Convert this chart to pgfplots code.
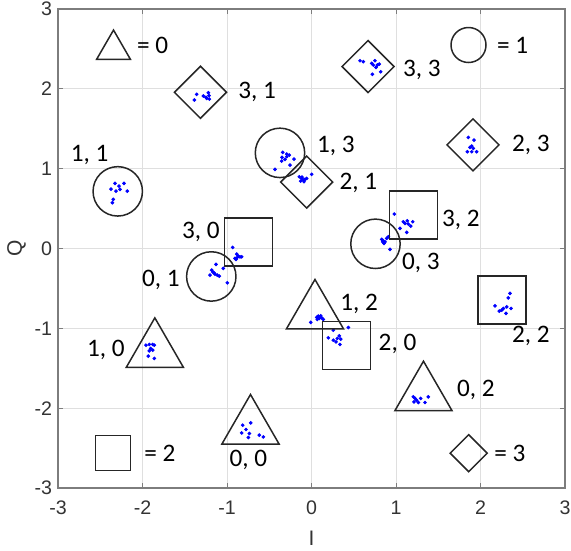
\documentclass[border=0pt]{standalone}
\usepackage{fontspec}
\setmainfont{Carlito}
\newfontfamily\arial{Liberation Sans}
\usepackage{pgfplots}
\pgfplotsset{compat=1.18}
\definecolor{axgray}{RGB}{125,125,125}
\definecolor{gridgray}{RGB}{223,223,223}
\definecolor{shp}{RGB}{38,38,38}
\tikzset{lbl/.style={inner sep=0pt, font=\fontsize{12.6}{14}\selectfont}}

\begin{document}
\begin{tikzpicture}
\begin{axis}[
    name=ax,
    scale only axis,
    width=253.5pt, height=239.5pt,
    xmin=-3, xmax=3, ymin=-3, ymax=3,
    xtick={-3,...,3}, ytick={-3,...,3},
    grid=major,
    grid style={gridgray, line width=0.5pt},
    axis line style={axgray, line width=0.6pt},
    tick style={axgray, line width=0.5pt},
    tick align=inside,
    major tick length=2.5pt,
    /pgf/number format/assume math mode=true,
    ticklabel style={font=\arial\fontsize{9.8}{11}\selectfont, text=black!80},
    xticklabel style={yshift=-3pt},
    yticklabel style={xshift=0.6pt},
    xlabel={I}, ylabel={Q},
    label style={font=\arial\fontsize{10.5}{12}\selectfont, text=black!80},
    xlabel style={at={(axis description cs:0.5,0)}, anchor=center, yshift=-25pt},
    ylabel style={at={([xshift=-20.75pt]axis description cs:0,0.5)}, anchor=center},
    clip=false,
]
% --- received symbols (blue dots) ---
\addplot[only marks, mark=*, mark size=0.7pt, blue] coordinates {
% 3,1
(-1.359,1.931) (-1.387,1.860) (-1.280,1.910) (-1.249,1.894) (-1.221,1.951) (-1.213,1.914) (-1.209,1.872) (-1.240,1.881)
% 1,1
(-2.373,0.744) (-2.325,0.816) (-2.278,0.782) (-2.219,0.816) (-2.314,0.719) (-2.266,0.741) (-2.180,0.719) (-2.346,0.615) (-2.357,0.573)
% 1,3
(-0.341,1.204) (-0.293,1.183) (-0.263,1.170) (-0.349,1.142) (-0.314,1.117) (-0.207,1.120) (-0.353,1.095) (-0.254,1.045) (-0.432,0.991) (-0.293,1.149)
% 2,1
(-0.144,0.898) (-0.116,0.878) (-0.097,0.857) (-0.077,0.866) (-0.128,0.845) (-0.089,0.836) (0.002,0.929) (-0.057,0.878) (-0.112,0.895)
% 3,0
(-0.933,0.014) (-0.885,-0.070) (-0.866,-0.095) (-0.846,-0.104) (-0.893,-0.137) (-0.905,-0.124) (-0.826,-0.104) (-0.878,-0.112)
% 0,1
(-1.130,-0.199) (-1.181,-0.271) (-1.044,-0.249) (-1.154,-0.305) (-1.201,-0.333) (-1.115,-0.333) (-1.091,-0.346) (-1.142,-0.321) (-0.996,-0.430) (-1.169,-0.292)
% 1,0
(-1.959,-1.211) (-1.920,-1.202) (-1.879,-1.202) (-1.860,-1.211) (-1.903,-1.252) (-1.920,-1.282) (-1.879,-1.273) (-1.931,-1.348) (-1.860,-1.377)
% 3,3
(0.574,2.352) (0.613,2.340) (0.712,2.320) (0.751,2.352) (0.731,2.298) (0.802,2.311) (0.763,2.269) (0.819,2.214) (0.720,2.182) (0.779,2.298)
% 2,3
(1.856,1.392) (1.923,1.358) (1.896,1.283) (1.876,1.267) (1.915,1.254) (1.844,1.212) (1.896,1.212) (1.955,1.212)
% 3,2
(0.980,0.431) (1.086,0.335) (1.134,0.347) (1.198,0.335) (1.146,0.306) (1.174,0.281) (1.047,0.252) (1.127,0.202) (1.107,0.315)
% 0,3
(0.831,0.114) (0.850,0.096) (0.870,0.084) (0.890,0.127) (0.858,0.064) (0.909,0.147) (0.929,-0.011) (0.843,0.084)
% 1,2
(-0.009,-0.926) (0.062,-0.863) (0.080,-0.847) (0.092,-0.876) (0.109,-0.843) (0.121,-0.868) (0.140,-0.888) (0.069,-0.888)
% 2,0
(0.258,-1.023) (0.436,-0.989) (0.199,-1.119) (0.258,-1.148) (0.305,-1.127) (0.329,-1.094) (0.290,-1.169) (0.337,-1.202) (0.346,-1.135)
% 2,2
(2.349,-0.563) (2.329,-0.618) (2.172,-0.718) (2.310,-0.731) (2.270,-0.751) (2.222,-0.784) (2.361,-0.751) (2.302,-0.813) (2.251,-0.772)
% 0,2
(1.205,-1.858) (1.225,-1.878) (1.213,-1.921) (1.245,-1.900) (1.264,-1.929) (1.343,-1.929) (1.382,-1.858) (1.292,-1.878)
% 0,0
(-0.814,-2.213) (-0.720,-2.184) (-0.775,-2.267) (-0.826,-2.310) (-0.736,-2.317) (-0.748,-2.367) (-0.618,-2.338) (-0.570,-2.360)
};
% --- decision shapes ---
\addplot[only marks, mark=triangle, mark size=16.5pt, mark options={draw=shp, line width=0.75pt}] coordinates {
(-1.854,-1.282) (-0.722,-2.242) (0.041,-0.801) (1.325,-1.825)
};
\addplot[only marks, mark=o, mark size=12.35pt, mark options={draw=shp, line width=0.75pt}] coordinates {
(-2.293,0.716) (-0.373,1.198) (-1.186,-0.350) (0.757,0.059)
};
\addplot[only marks, mark=square, mark size=12pt, mark options={draw=shp, line width=0.75pt}] coordinates {
(-0.748,0.084) (1.209,0.422) (0.414,-1.213) (2.257,-0.643)
};
\addplot[only marks, mark=square, mark size=9.2pt, mark options={draw=shp, line width=0.75pt, rotate=45}] coordinates {
(-1.314,1.957) (0.669,2.279) (1.911,1.298) (-0.057,0.832)
};
% --- key shapes ---
\addplot[only marks, mark=triangle, mark size=9.75pt, mark options={draw=shp, line width=0.75pt}] coordinates {(-2.343,2.492)};
\addplot[only marks, mark=o, mark size=8.75pt, mark options={draw=shp, line width=0.75pt}] coordinates {(1.858,2.549)};
\addplot[only marks, mark=square, mark size=8.75pt, mark options={draw=shp, line width=0.75pt}] coordinates {(-2.347,-2.561)};
\addplot[only marks, mark=square, mark size=6.55pt, mark options={draw=shp, line width=0.75pt, rotate=45}] coordinates {(1.860,-2.564)};
% --- labels ---
\node[lbl, anchor=west] at (axis cs:-2.069,2.549) {= 0};
\node[lbl, anchor=west] at (axis cs:2.192,2.549) {= 1};
\node[lbl, anchor=west] at (axis cs:-1.982,-2.568) {= 2};
\node[lbl, anchor=west] at (axis cs:2.160,-2.568) {= 3};
\node[lbl, anchor=west] at (axis cs:-0.870,1.960) {3, 1};
\node[lbl, anchor=center] at (axis cs:-2.627,1.170) {1, 1};
\node[lbl, anchor=west] at (axis cs:0.062,1.283) {1, 3};
\node[lbl, anchor=west] at (axis cs:1.079,2.236) {3, 3};
\node[lbl, anchor=west] at (axis cs:2.369,1.296) {2, 3};
\node[lbl, anchor=west] at (axis cs:0.329,0.816) {2, 1};
\node[lbl, anchor=west] at (axis cs:1.541,0.356) {3, 2};
\node[lbl, anchor=east] at (axis cs:-1.083,0.209) {3, 0};
\node[lbl, anchor=west] at (axis cs:1.067,-0.183) {0, 3};
\node[lbl, anchor=east] at (axis cs:-1.556,-0.396) {0, 1};
\node[lbl, anchor=west] at (axis cs:0.337,-0.688) {1, 2};
\node[lbl, anchor=west] at (axis cs:0.791,-1.189) {2, 0};
\node[lbl, anchor=west] at (axis cs:2.369,-1.098) {2, 2};
\node[lbl, anchor=east] at (axis cs:-2.207,-1.273) {1, 0};
\node[lbl, anchor=west] at (axis cs:1.718,-1.774) {0, 2};
\node[lbl, anchor=center] at (axis cs:-0.748,-2.652) {0, 0};
\end{axis}
\pgfresetboundingbox
\path[use as bounding box] ([shift={(-29pt,-31pt)}]ax.south west) rectangle ([shift={(3pt,4.5pt)}]ax.north east);
\end{tikzpicture}
\end{document}
